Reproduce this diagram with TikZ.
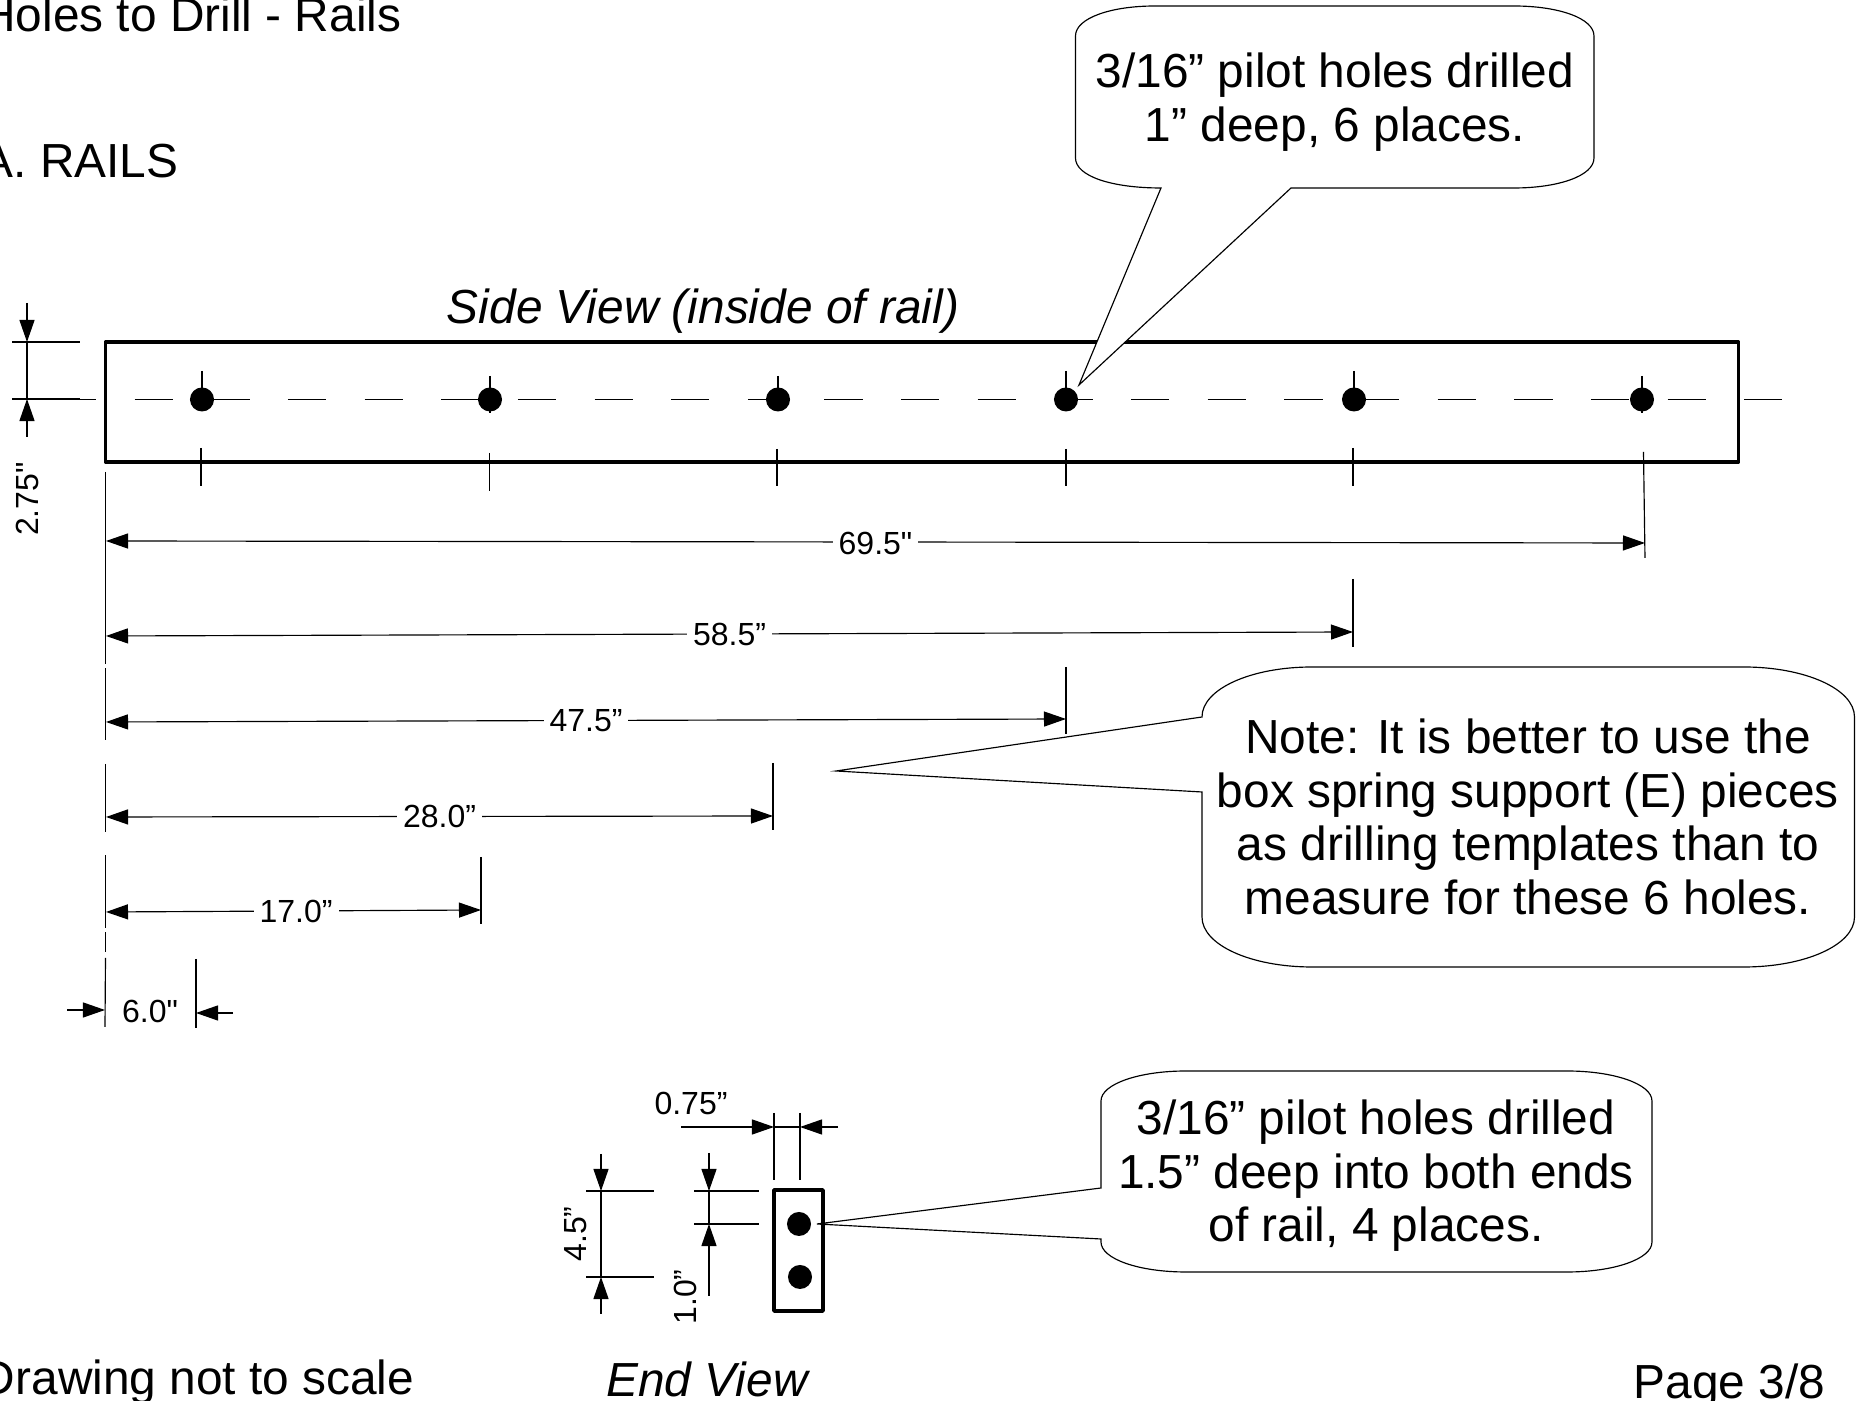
\documentclass[tikz,border=0pt]{standalone}
\usepackage{fontspec}
\setmainfont{Liberation Sans}
\usetikzlibrary{arrows.meta}
\begin{document}
\begin{tikzpicture}[x=0.01cm,y=-0.01cm,
		thinline/.style={line width=0.33pt},
		dimline/.style={thinline,{Triangle[length=0.22cm,width=0.15cm]}-{Triangle[length=0.22cm,width=0.15cm]}},
		endarrow/.style={thinline,-{Triangle[length=0.22cm,width=0.15cm]}},
		partline/.style={line width=1pt,line join=round},
		bubble/.style={thinline,fill=white,line join=miter},
		hole/.style={circle,fill=black,inner sep=0pt,minimum size=0.24cm},
		bigtext/.style={inner sep=0pt,font=\fontsize{13.6}{15.2}\selectfont},
		dimtext/.style={inner sep=0pt,font=\fontsize{9.1}{11}\selectfont},
		dimgap/.style={dimtext,fill=white,inner xsep=0.06cm,inner ysep=0pt}]
	\useasboundingbox (0,0) rectangle (1862,1401);

	% Headings
	\node [bigtext,anchor=base east] (title) at (402,32) {Holes to Drill - Rails};
	\node [bigtext,anchor=base east] (section) at (179,178) {A. RAILS};
	\node [bigtext,anchor=base,font=\fontsize{13.6}{15.2}\selectfont\itshape] (sideview) at (703,324) {Side View (inside of rail)};
	\node [bigtext,anchor=base,font=\fontsize{13.6}{15.2}\selectfont\itshape] (endview) at (707,1397) {End View};
	\node [bigtext,anchor=base east] (noscale) at (415,1395) {Drawing not to scale};
	\node [bigtext,anchor=base west] (page) at (1633,1399) {Page 3/8};

	% Rail, side view
	\draw [partline] (105.5,342) rectangle (1738.5,462);
	\draw [thinline,dash pattern=on 0.383cm off 0.383cm] (58,399.5) -- (1784,399.5);

	% Tick marks on the holes
	\draw [thinline] (202,371) -- (202,399);
	\draw [thinline] (490,376) -- (490,413);
	\draw [thinline] (778,376) -- (778,399);
	\draw [thinline] (1066,371) -- (1066,399);
	\draw [thinline] (1354,371) -- (1354,399);
	\draw [thinline] (1642,376) -- (1642,413);
	\draw [thinline] (201,448) -- (201,486);
	\draw [thinline] (489.5,453) -- (489.5,491);
	\draw [thinline] (777,449) -- (777,486);
	\draw [thinline] (1066,449) -- (1066,486);
	\draw [thinline] (1353,448) -- (1353,486);
	\draw [thinline] (1643.5,452) -- (1645,558);

	% Holes
	\node [hole] (hole1) at (202,399.5) {};
	\node [hole] (hole2) at (490,399.5) {};
	\node [hole] (hole3) at (778,399.5) {};
	\node [hole] (hole4) at (1066,399.5) {};
	\node [hole] (hole5) at (1354,399.5) {};
	\node [hole] (hole6) at (1642,399.5) {};

	% Rail width
	\draw [thinline] (12,342) -- (80,342);
	\draw [thinline] (12,399) -- (80,399);
	\draw [endarrow] (27,303) -- (27,342);
	\draw [thinline] (27,342) -- (27,399);
	\draw [endarrow] (27,437) -- (27,399);
	\node [dimtext,rotate=90] (railwidth) at (27.5,499) {2.75\textquotedbl};

	% Datum line on the left
	\draw [thinline] (105.7,472) -- (105.7,664);
	\draw [thinline] (105.7,668.5) -- (105.7,740);
	\draw [thinline] (105.7,764) -- (105.7,832);
	\draw [thinline] (105.7,855.5) -- (105.7,928.5);
	\draw [thinline] (105.7,932.5) -- (105.7,952);
	\draw [thinline] (105.5,958) -- (105,1027);

	% Distances from the end of the rail
	\draw [dimline] (106,541) -- node[dimgap,yshift=-0.01cm] (dim695) {69.5\textquotedbl} (1645,543);
	\draw [thinline] (1353,579) -- (1353,647);
	\draw [dimline] (106,636) -- node[dimgap] (dim585) {58.5”} (1353,632);
	\draw [thinline] (1066,667) -- (1066,734);
	\draw [dimline] (106,722) -- node[dimgap] (dim475) {47.5”} (1066,719);
	\draw [thinline] (773,763) -- (773,830);
	\draw [dimline] (106,817) -- node[dimgap] (dim280) {28.0”} (773,816);
	\draw [thinline] (481,857) -- (481,924);
	\draw [dimline] (106,912) -- node[dimgap,pos=0.507,yshift=-0.01cm] (dim170) {17.0”} (481,910);

	% First hole
	\draw [thinline] (196,959) -- (196,1028);
	\draw [endarrow] (67,1010) -- (105,1010);
	\draw [endarrow] (233,1013) -- (196,1013);
	\node [dimtext] (dim60) at (150,1011) {6.0\textquotedbl};

	% Callout to the holes
	\draw [bubble] (1155,6) -- (1514,6)
		.. controls (1558,6) and (1594,18) .. (1594,36) -- (1594,158)
		.. controls (1594,176) and (1558,188) .. (1514,188) -- (1291,188)
		-- (1079,385) -- (1161,188)
		.. controls (1111,188) and (1075.5,176) .. (1075.5,158) -- (1075.5,36)
		.. controls (1075.5,18) and (1111,6) .. (1155,6) -- cycle;
	\node [bigtext,align=center] (pilotnote) at (1335,102) {3/16” pilot holes drilled\\1” deep, 6 places.};

	% Callout with the note
	\draw [bubble] (1312,667) -- (1744,667)
		.. controls (1805,667) and (1854.5,689) .. (1854.5,717) -- (1854.5,917)
		.. controls (1854.5,945) and (1805,967) .. (1744,967) -- (1312,967)
		.. controls (1251,967) and (1202,945) .. (1202,917) -- (1202,792)
		-- (836,771) -- (1202,717)
		.. controls (1202,689) and (1251,667) .. (1312,667) -- cycle;
	\node [bigtext,align=center] (drillnote) at (1528,817) {Note: It is better to use the\\box spring support (E) pieces\\as drilling templates than to\\measure for these 6 holes.};

	% Callout to the end view, under the rail end
	\draw [bubble] (1186,1071) -- (1567,1071)
		.. controls (1614,1071) and (1652,1084) .. (1652,1101) -- (1652,1242)
		.. controls (1652,1259) and (1614,1272) .. (1567,1272) -- (1186,1272)
		.. controls (1139,1272) and (1101,1259) .. (1101,1242) -- (1101,1239)
		-- (817,1224) -- (1101,1188) -- (1101,1101)
		.. controls (1101,1084) and (1139,1071) .. (1186,1071) -- cycle;
	\node [bigtext,align=center] (endnote) at (1376,1176) {3/16” pilot holes drilled\\1.5” deep into both ends\\of rail, 4 places.};

	% Rail, end view
	\draw [partline] (774,1190) rectangle (823,1311);
	\node [hole] (hole7) at (799,1224) {};
	\node [hole] (hole8) at (800,1277) {};

	% End view dimensions
	\draw [thinline] (774,1113) -- (774,1180);
	\draw [thinline] (800,1113) -- (800,1180);
	\draw [endarrow] (681,1127) -- (774,1127);
	\draw [thinline] (774,1127) -- (800,1127);
	\draw [endarrow] (838,1127) -- (800,1127);
	\node [dimtext] (dim075) at (691,1103) {0.75”};

	\draw [thinline] (586,1191) -- (654,1191);
	\draw [thinline] (586,1277) -- (654,1277);
	\draw [endarrow] (601,1154) -- (601,1191);
	\draw [thinline] (601,1191) -- (601,1277);
	\draw [endarrow] (601,1314) -- (601,1277);
	\node [dimtext,rotate=90] (dim45) at (576,1234) {4.5”};

	\draw [thinline] (694,1191) -- (759,1191);
	\draw [thinline] (694,1224) -- (759,1224);
	\draw [endarrow] (709,1153) -- (709,1191);
	\draw [thinline] (709,1191) -- (709,1224);
	\draw [endarrow] (709,1296) -- (709,1224);
	\node [dimtext,rotate=90] (dim10) at (685,1297) {1.0”};
\end{tikzpicture}
\end{document}
